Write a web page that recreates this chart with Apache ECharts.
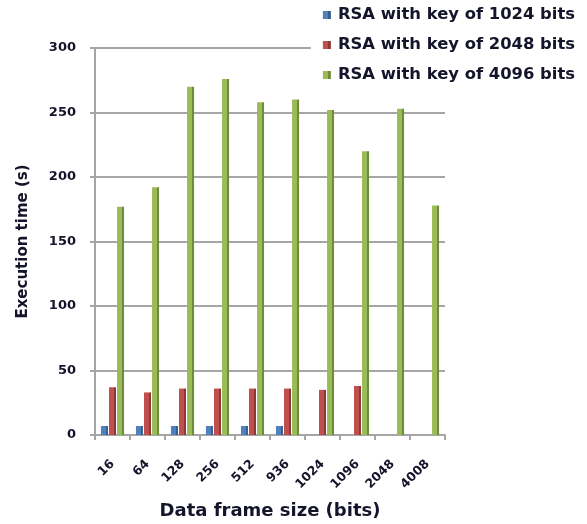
<!DOCTYPE html>
<html>
<head>
<meta charset="utf-8">
<script src="https://cdn.jsdelivr.net/npm/echarts@6/dist/echarts.min.js"></script>
<style>
  html, body { margin: 0; padding: 0; background: #ffffff; }
  #chart { width: 587px; height: 524px; }
</style>
</head>
<body>
<div id="chart"></div>
<script>
// Execution time of RSA encryption per data frame size, by key length
const frameSizes = ['16', '64', '128', '256', '512', '936', '1024', '1096', '2048', '4008'];
const rsa1024 = [7, 7, 7, 7, 7, 7, null, null, null, null];
const rsa2048 = [37, 33, 36, 36, 36, 36, 35, 38, null, null];
const rsa4096 = [177, 192, 270, 276, 258, 260, 252, 220, 253, 178];
const seriesNames = ['RSA with key of 1024 bits', 'RSA with key of 2048 bits', 'RSA with key of 4096 bits'];
const yTicks = [0, 50, 100, 150, 200, 250, 300];

const FONT = '"DejaVu Sans", Verdana, sans-serif';
const TEXT = '#14142a';

// bar fill with a darker strip on the right, like a shaded side face
function shaded(face, side) {
  return new echarts.graphic.LinearGradient(0, 0, 1, 0, [
    { offset: 0, color: face },
    { offset: 0.68, color: face },
    { offset: 0.7, color: side },
    { offset: 1, color: side }
  ]);
}

const palette = [
  { face: '#4F81BD', side: '#385D8A' },
  { face: '#C0504D', side: '#8C3836' },
  { face: '#9BBB59', side: '#6E8B3D' }
];
const seriesData = [rsa1024, rsa2048, rsa4096];

const chart = echarts.init(document.getElementById('chart'), null, { renderer: 'canvas' });
chart.setOption({
  animation: false,
  backgroundColor: '#ffffff',
  legend: {
    orient: 'vertical',
    right: 10,
    top: 4,
    padding: [3, 2, 3, 12],
    backgroundColor: '#ffffff',
    itemWidth: 8,
    itemHeight: 8,
    itemGap: 14,
    icon: 'rect',
    data: seriesNames,
    textStyle: { fontFamily: FONT, fontWeight: 'bold', fontSize: 16.4, color: TEXT, padding: [0, 0, 0, 2] }
  },
  grid: { left: 95, right: 142, top: 48, bottom: 89, outerBoundsMode: 'none' },
  xAxis: {
    type: 'category',
    data: frameSizes,
    name: 'Data frame size (bits)',
    nameLocation: 'middle',
    nameGap: 67,
    nameTextStyle: { fontFamily: FONT, fontWeight: 'bold', fontSize: 18, color: TEXT },
    axisLine: { lineStyle: { color: '#a6a6a6', width: 2 } },
    axisTick: { show: true, inside: false, length: 5, lineStyle: { color: '#a6a6a6', width: 2 } },
    axisLabel: {
      rotate: 45, margin: 27, interval: 0,
      fontFamily: FONT, fontWeight: 'bold', fontSize: 12.5, color: TEXT
    }
  },
  yAxis: {
    type: 'value',
    min: 0,
    max: 300,
    interval: 50,
    name: 'Execution time (s)',
    nameLocation: 'middle',
    nameGap: 64,
    nameTextStyle: { fontFamily: FONT, fontWeight: 'bold', fontSize: 15, color: TEXT },
    axisLine: { show: true, lineStyle: { color: '#a6a6a6', width: 2 } },
    axisTick: { show: true, length: 5, lineStyle: { color: '#a6a6a6', width: 2 } },
    axisLabel: {
      margin: 19,
      fontFamily: FONT, fontWeight: 'bold', fontSize: 13, color: TEXT,
      formatter: v => (yTicks.includes(v) ? String(v) : '')
    },
    splitLine: { show: true, lineStyle: { color: '#a6a6a6', width: 2 } }
  },
  series: seriesData.map((d, i) => ({
    name: seriesNames[i],
    type: 'bar',
    data: d,
    barWidth: 7,
    barGap: '15%',
    barCategoryGap: '30%',
    itemStyle: { color: shaded(palette[i].face, palette[i].side) }
  }))
});
</script>
</body>
</html>
